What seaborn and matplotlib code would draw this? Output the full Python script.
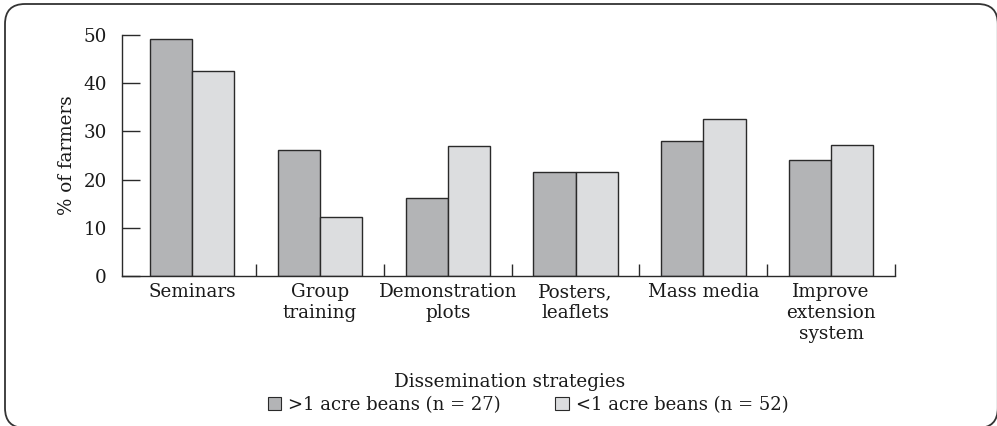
import pandas as pd
import numpy as np

import matplotlib.pyplot as plt
from matplotlib.patches import FancyBboxPatch, Patch
from matplotlib.transforms import IdentityTransform
import seaborn as sns

strategies = ['Seminars', 'Group\ntraining', 'Demonstration\nplots',
              'Posters,\nleaflets', 'Mass media', 'Improve\nextension\nsystem']
groups = ['>1 acre beans (n = 27)', '<1 acre beans (n = 52)']
large_farms = [49.2, 26.1, 16.2, 21.6, 28.0, 24.1]
small_farms = [42.5, 12.2, 27.0, 21.6, 32.6, 27.2]
bar_colors = ['#b3b4b6', '#dcdddf']

df = pd.DataFrame({
    'strategy': strategies * 2,
    'group': [groups[0]] * len(strategies) + [groups[1]] * len(strategies),
    'pct': large_farms + small_farms,
})

sns.set_style('white')
plt.rcParams['font.family'] = ['DejaVu Serif']
text_color = '#1a1a1a'
fs = 13.2

fig = plt.figure(figsize=(9.97, 4.26), dpi=100)

# rounded outer frame, drawn in pixel units
frame = FancyBboxPatch((5, -2), 992.8, 424,
                       boxstyle='round,pad=0,rounding_size=20',
                       transform=IdentityTransform(), fill=False,
                       edgecolor='#333333', linewidth=1.3)
fig.patches.append(frame)

ax = fig.add_axes([122 / 997, 150 / 426, 773 / 997, 241 / 426])

sns.barplot(data=df, x='strategy', y='pct', hue='group', palette=bar_colors,
            width=0.66, edgecolor='#2a2a2a', linewidth=1.0, ax=ax,
            legend=False)

ax.set_xlim(-0.55, 5.5)
ax.set_ylim(0, 50)
ax.set_yticks([0, 10, 20, 30, 40, 50])
ax.tick_params(axis='y', direction='in', length=13, width=1.0,
               color='#2a2a2a', labelsize=fs, pad=11, left=True,
               labelcolor=text_color)
ax.set_xticks(np.arange(len(strategies)))
ax.set_xticklabels(strategies, fontsize=fs, linespacing=1.2,
                   color=text_color)
ax.tick_params(axis='x', which='major', length=0, pad=5)
ax.set_xticks(np.arange(len(strategies)) + 0.5, minor=True)
ax.tick_params(axis='x', which='minor', direction='in', length=9,
               width=1.0, color='#2a2a2a', bottom=True)

sns.despine(ax=ax)
for side in ['left', 'bottom']:
    ax.spines[side].set_color('#2a2a2a')
    ax.spines[side].set_linewidth(1.0)

ax.set_ylabel('% of farmers', fontsize=fs, labelpad=5, color=text_color)
ax.set_xlabel('')
fig.text(510 / 997, 1 - 382 / 426, 'Dissemination strategies',
         fontsize=fs, ha='center', va='center', color=text_color)

handles = [Patch(facecolor=c, edgecolor='#2a2a2a', linewidth=0.8)
           for c in bar_colors]
fig.legend(handles, groups, loc='center', ncol=2, frameon=False,
           bbox_to_anchor=(528 / 997, 1 - 405 / 426), fontsize=13,
           handlelength=0.75, handleheight=0.75, handletextpad=0.4,
           columnspacing=3.0, labelcolor=text_color)

fig.savefig('out.png', dpi=100)
